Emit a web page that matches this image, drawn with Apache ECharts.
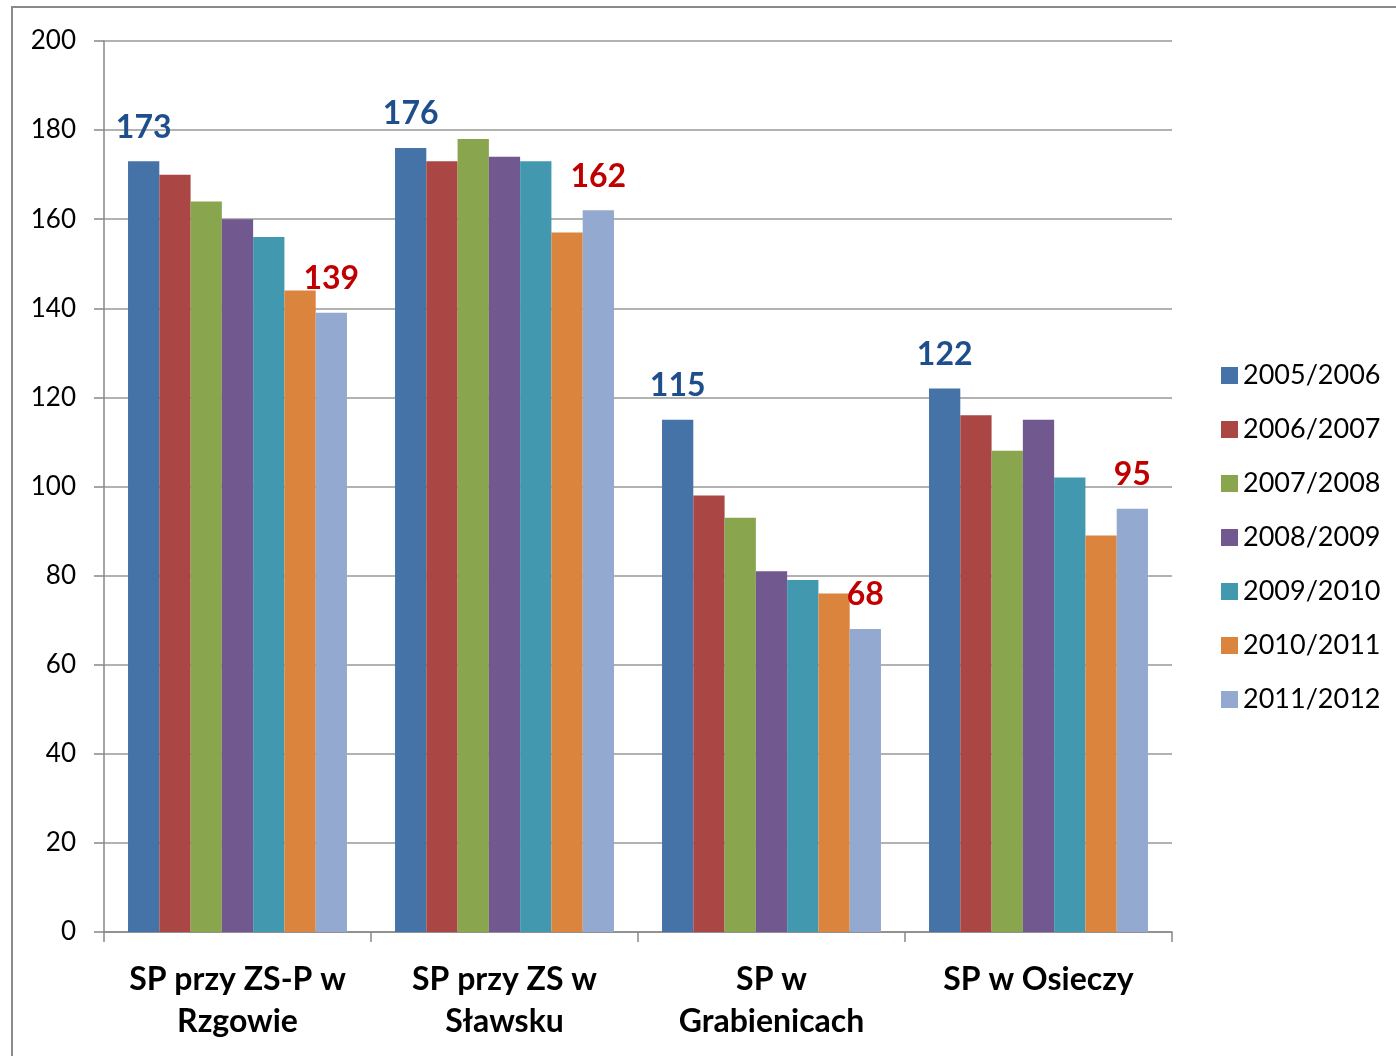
<!DOCTYPE html>
<html>
<head>
<meta charset="utf-8">
<script src="https://cdn.jsdelivr.net/npm/echarts@6/dist/echarts.min.js"></script>
<style>html,body{margin:0;padding:0;background:#fff}#c{width:1396px;height:1056px}</style>
</head>
<body>
<div id="c"></div>
<script>
const categories = ['SP przy ZS-P w\nRzgowie', 'SP przy ZS w\nSławsku', 'SP w\nGrabienicach', 'SP w Osieczy'];
const seriesNames = ['2005/2006', '2006/2007', '2007/2008', '2008/2009', '2009/2010', '2010/2011', '2011/2012'];
const s2005 = [173, 176, 115, 122];
const s2006 = [170, 173, 98, 116];
const s2007 = [164, 178, 93, 108];
const s2008 = [160, 174, 81, 115];
const s2009 = [156, 173, 79, 102];
const s2010 = [144, 157, 76, 89];
const s2011 = [139, 162, 68, 95];
const yTicks = [0, 20, 40, 60, 80, 100, 120, 140, 160, 180, 200];

const allValues = [s2005, s2006, s2007, s2008, s2009, s2010, s2011];
const colors = ['#4572A7', '#AA4643', '#89A54E', '#71588F', '#4198AF', '#DB843D', '#93A9CF'];
const FONT = 'Lato';

const series = allValues.map((vals, i) => {
  const s = {
    name: seriesNames[i],
    type: 'bar',
    data: vals,
    barGap: '0%',
    barCategoryGap: '18%',
    itemStyle: { color: colors[i] },
    emphasis: { disabled: true }
  };
  if (i === 0 || i === allValues.length - 1) {
    s.label = {
      show: true,
      position: 'top',
      distance: 18,
      fontFamily: FONT,
      fontWeight: 'bold',
      fontSize: 32,
      lineHeight: 32,
      color: i === 0 ? '#1F4E8C' : '#C00000'
    };
  }
  return s;
});

const chart = echarts.init(document.getElementById('c'), null, { renderer: 'canvas' });
chart.setOption({
  animation: false,
  backgroundColor: '#fff',
  textStyle: { fontFamily: FONT },
  graphic: [{
    type: 'rect',
    shape: { x: 12, y: 7, width: 1500, height: 1200 },
    style: { fill: 'none', stroke: '#8a8a8a', lineWidth: 2 },
    silent: true
  }],
  grid: { left: 104, right: 224, top: 41, bottom: 124 },
  legend: {
    orient: 'vertical',
    left: 1216,
    top: 357,
    itemWidth: 17,
    itemHeight: 17,
    itemGap: 27,
    icon: 'rect',
    textStyle: { fontFamily: FONT, fontSize: 27, color: '#000' },
    data: seriesNames
  },
  xAxis: {
    type: 'category',
    data: categories,
    axisLine: { lineStyle: { color: '#888', width: 1.5 } },
    axisTick: { show: true, length: 10, lineStyle: { color: '#888', width: 1.5 } },
    axisLabel: {
      margin: 27,
      fontFamily: FONT,
      fontWeight: 'bold',
      fontSize: 32,
      lineHeight: 42,
      color: '#000',
      interval: 0
    }
  },
  yAxis: {
    type: 'value',
    min: 0,
    max: 200,
    interval: 20,
    axisLine: { show: true, lineStyle: { color: '#888', width: 1.5 } },
    axisTick: { show: true, length: 10, lineStyle: { color: '#888', width: 1.5 } },
    splitLine: { lineStyle: { color: '#999', width: 1.5 } },
    axisLabel: {
      margin: 28,
      fontFamily: FONT,
      fontSize: 26,
      color: '#000',
      formatter: v => yTicks.includes(v) ? String(v) : ''
    }
  },
  series: series
});
</script>
</body>
</html>
